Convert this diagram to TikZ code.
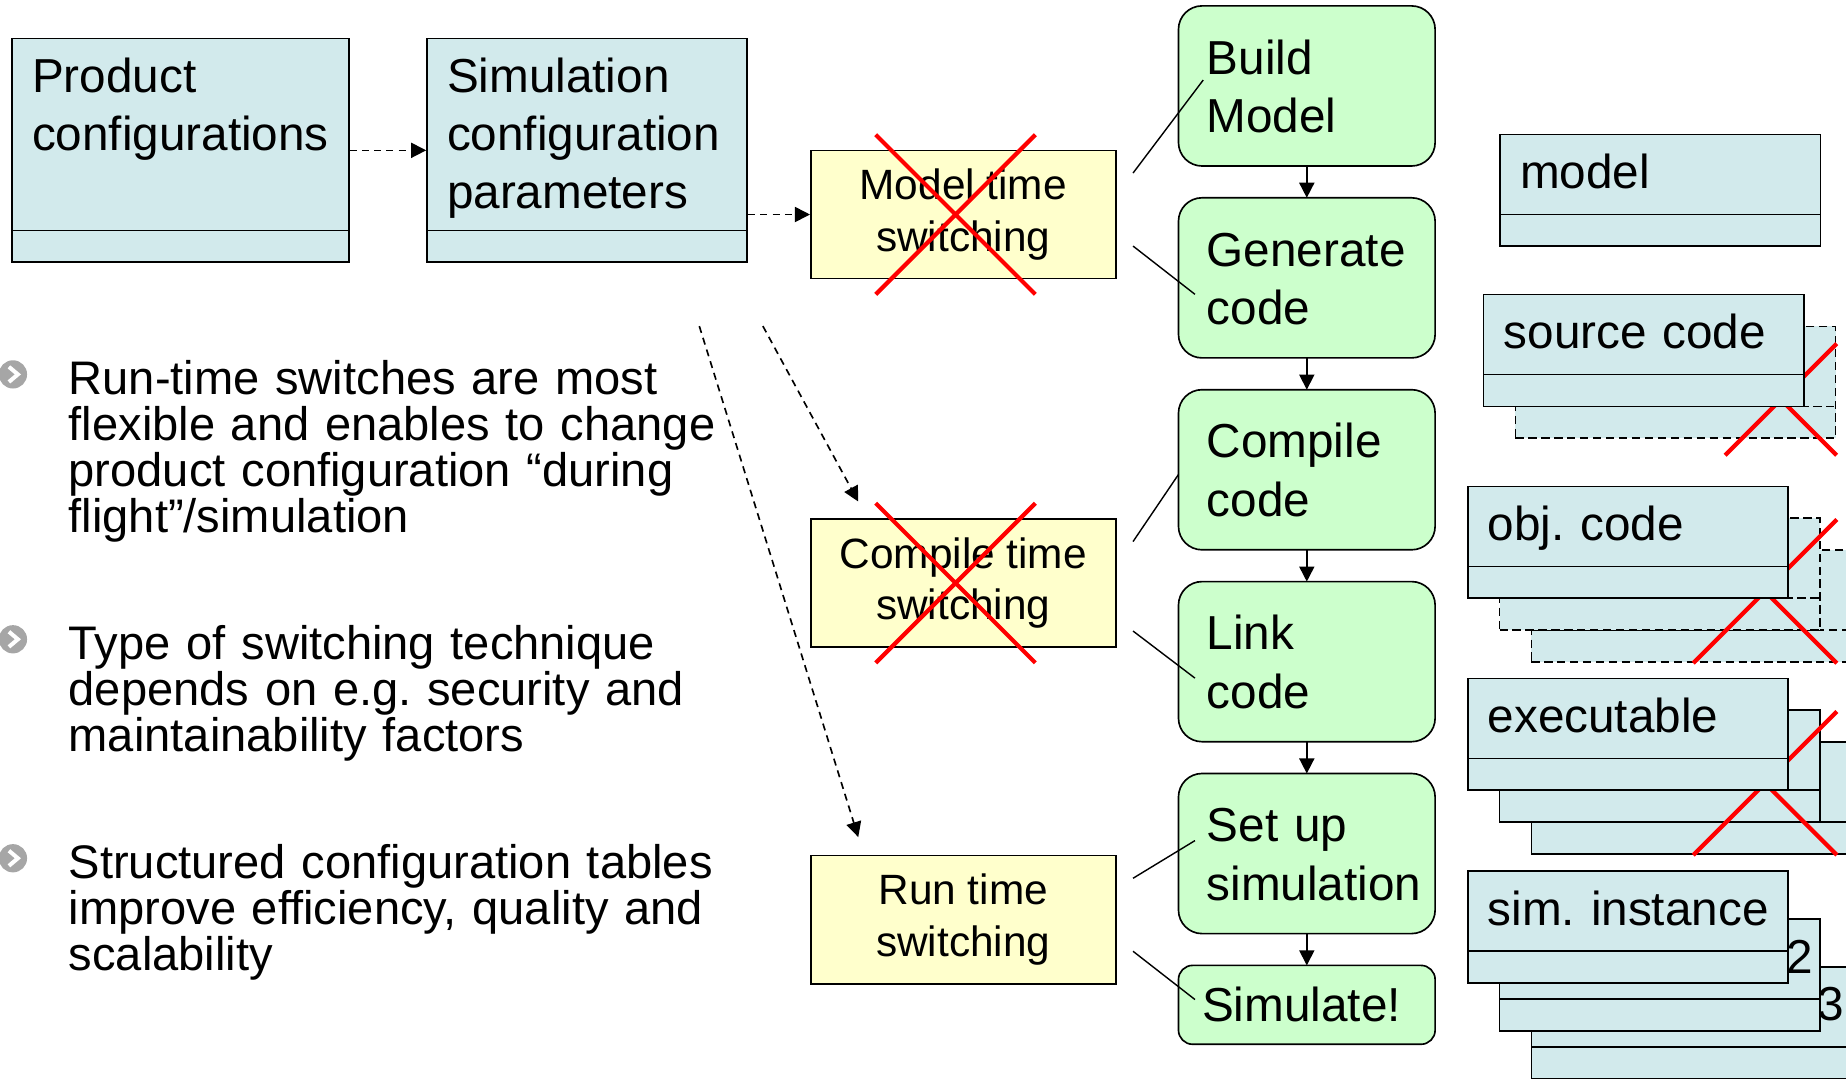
\documentclass[tikz,border=0pt]{standalone}
\usepackage{fontspec}
\setmainfont{Liberation Sans}
\usetikzlibrary{arrows.meta,positioning,calc,backgrounds}
\definecolor{clsblue}{RGB}{210,234,236}
\definecolor{stepgreen}{RGB}{204,255,204}
\definecolor{swyellow}{RGB}{255,255,204}
\definecolor{bulgray}{RGB}{166,166,166}
\hyphenpenalty=10000
\frenchspacing
\setlength{\lineskiplimit}{-20pt}
% red "no longer used" cross: centre, half size
\newcommand{\redcross}[2]{%
  \draw[nogo] ([shift={(-#2,#2)}]#1) -- ([shift={(#2,-#2)}]#1)
              ([shift={(-#2,-#2)}]#1) -- ([shift={(#2,#2)}]#1);}

\begin{document}
\begin{tikzpicture}[
  x=0.5pt, y=-0.5pt,
  node distance=13.5pt,
  bigfont/.style={font=\fontsize{20.25pt}{24.6pt}\selectfont},
  classbox/.style={draw,fill=clsblue,line width=0.7pt,anchor=north west,
    inner xsep=8.5pt,inner ysep=0pt,align=left,text width=119pt,
    text height=23pt,text depth=24.5pt,bigfont,
    path picture={\draw[line width=0.7pt]
      ([yshift=13.5pt]path picture bounding box.south west) --
      ([yshift=13.5pt]path picture bounding box.south east);}},
  tallclass/.style={classbox,text depth=72pt},
  backclass/.style={classbox,align=right,inner xsep=3pt,text width=130pt},
  ghost/.style={dash pattern=on 3.5pt off 2pt},
  stepbox/.style={draw,fill=stepgreen,line width=0.7pt,rounded corners=10pt,
    anchor=north west,outer sep=0pt,inner xsep=12pt,inner ysep=0pt,align=left,
    text width=85pt,text height=29pt,text depth=39pt,
    font=\fontsize{20.25pt}{24.75pt}\selectfont},
  switchbox/.style={draw,fill=swyellow,line width=0.7pt,anchor=north west,
    minimum width=129.5pt,minimum height=54.5pt,align=center,
    font=\fontsize{18pt}{22pt}\selectfont},
  bul/.style={circle,fill=bulgray,minimum size=12pt,inner sep=0pt,
    path picture={\draw[white,line width=1.7pt]
      ([shift={(-1.7pt,3.2pt)}]path picture bounding box.center) --
      ([shift={(2.1pt,0pt)}]path picture bounding box.center) --
      ([shift={(-1.7pt,-3.2pt)}]path picture bounding box.center);}},
  bultext/.style={anchor=north west,inner sep=0pt,align=left,text width=290pt,
    text height=14.5pt,font=\fontsize{20pt}{19.5pt}\selectfont},
  flow/.style={-{Triangle[length=6.4pt,width=6.4pt]},line width=0.7pt},
  dasharr/.style={-{Triangle[length=6.4pt,width=6.4pt]},line width=0.7pt,
    dash pattern=on 3pt off 2.2pt},
  link/.style={line width=0.6pt},
  nogo/.style={draw=red,line width=1.8pt}
]
  \useasboundingbox (0,0) rectangle (1568,916);

  % configuration data
  \node[tallclass,text width=126pt] (prodcfg) at (9.5,32) {Product\\configurations};
  \node[tallclass] (simcfg) at (362,32) {Simulation\\configuration\\parameters};
  \draw[dasharr] (prodcfg) -- (simcfg);

  % switching techniques
  \node[switchbox] (modelsw) at (688,127) {Model time\\switching};
  \node[switchbox] (compsw) at (688,440) {Compile time\\switching};
  \node[switchbox] (runsw) at (688,726) {Run time\\switching};
  \draw[dasharr] (simcfg.east |- modelsw.west) -- (modelsw.west);
  \coordinate (tailc) at (648,277);
  \coordinate (tailr) at (594,277);
  \draw[dasharr] (tailc) -- ([shift={(20.5pt,7pt)}]compsw.north west);
  \draw[dasharr] (tailr) -- ([shift={(20.5pt,7.5pt)}]runsw.north west);
  \coordinate (mx) at ([xshift=-3.3pt]modelsw.center);
  \redcross{mx}{33.9pt}
  \coordinate (cx) at ([xshift=-3.3pt]compsw.center);
  \redcross{cx}{33.9pt}

  % build steps
  \node[stepbox] (build) at (1001,5) {Build\\Model};
  \node[stepbox,below=of build] (gencode) {Generate\\code};
  \node[stepbox,below=of gencode] (compcode) {Compile\\code};
  \node[stepbox,below=of compcode] (linkcode) {Link\\code};
  \node[stepbox,below=of linkcode] (setup) {Set~up\\simulation};
  \node[stepbox,below=of setup,text height=24pt,text depth=9.5pt,
    inner xsep=10pt,text width=89pt,rounded corners=6pt] (simrun) {Simulate!};
  \draw[flow] (build) -- (gencode);
  \draw[flow] (gencode) -- (compcode);
  \draw[flow] (compcode) -- (linkcode);
  \draw[flow] (linkcode) -- (setup);
  \draw[flow] (setup) -- (simrun);

  \draw[link] ([shift={(7pt,-10pt)}]modelsw.north east) -- ([shift={(10.5pt,-31.5pt)}]build.north west);
  \draw[link] ([shift={(7pt,-41pt)}]modelsw.north east) -- ([shift={(7pt,-41pt)}]gencode.north west);
  \draw[link] ([shift={(7pt,-10pt)}]compsw.north east) -- ([yshift=-36pt]compcode.north west);
  \draw[link] ([shift={(7pt,-48pt)}]compsw.north east) -- ([shift={(7pt,-41pt)}]linkcode.north west);
  \draw[link] ([shift={(7pt,-10pt)}]runsw.north east) -- ([shift={(7pt,-28.5pt)}]setup.north west);
  \draw[link] ([shift={(7pt,-41pt)}]runsw.north east) -- ([shift={(7pt,-14.5pt)}]simrun.north west);

  % artefacts
  \node[classbox] (model) at (1273.5,113.5) {model};
  \node[classbox] (src) at (1259.5,249.5) {source~code};
  \node[classbox] (obj) at (1246,412.5) {obj.~code};
  \node[classbox] (exe) at (1246,575.5) {executable};
  \node[classbox] (inst) at (1246,739) {sim.~instance};
  \begin{scope}[on background layer]
    \node[classbox,ghost] (src2) at ([shift={(13.5pt,-13.5pt)}]src.north west) {};
    \coordinate (srcx) at ([shift={(-23.6pt,16.8pt)}]src2.south east);
    \redcross{srcx}{23.7pt}
    \node[classbox,ghost] (obj3) at ([shift={(27pt,-27pt)}]obj.north west) {};
    \node[classbox,ghost] (obj2) at ([shift={(13.5pt,-13.5pt)}]obj.north west) {};
    \coordinate (objx) at ([shift={(-23.6pt,16.8pt)}]obj2.south east);
    \redcross{objx}{30.5pt}
    \node[classbox] (exe3) at ([shift={(27pt,-27pt)}]exe.north west) {};
    \node[classbox] (exe2) at ([shift={(13.5pt,-13.5pt)}]exe.north west) {};
    \coordinate (exex) at ([shift={(-23.6pt,16.8pt)}]exe2.south east);
    \redcross{exex}{30.5pt}
    \node[backclass] (inst3) at ([shift={(27pt,-40.75pt)}]inst.north west) {3};
    \node[backclass] (inst2) at ([shift={(13.5pt,-20.5pt)}]inst.north west) {2};
  \end{scope}

  % remarks
  \node[bul] (b1) at (11,318) {};
  \node[bul] (b2) at (11,543) {};
  \node[bul] (b3) at (11,729) {};
  \node[bultext] (t1) at (58,306) {Run-time switches are most\\flexible and enables to change\\product configuration “during\\flight”/simulation};
  \node[bultext] (t2) at (58,531) {Type of switching technique\\depends on e.g. security and\\maintainability factors};
  \node[bultext] (t3) at (58,717) {Structured configuration tables\\improve efficiency, quality and\\scalability};
\end{tikzpicture}
\end{document}
